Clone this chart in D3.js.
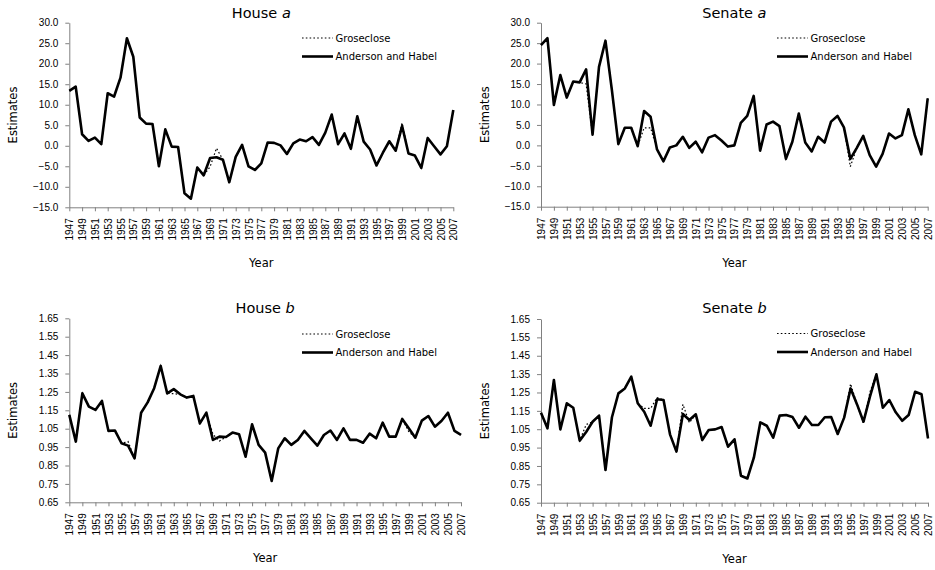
<!DOCTYPE html>
<html>
<head>
<meta charset="utf-8">
<script src="https://cdn.jsdelivr.net/npm/d3@7"></script>
<style>
  body { margin: 0; background: #fff; }
  svg { display: block; font-family: Verdana, "DejaVu Sans", sans-serif; }
</style>
</head>
<body>
<div id="chart"></div>
<script>
// years on the x axis, one value per year
const years = d3.range(1947, 2008);
const yearLabels = years.filter(y => (y - 1947) % 2 === 0);

// House a
const houseA_AH = [13.4, 14.4, 2.8, 1.2, 2.0, 0.4, 12.8, 12.0, 16.6, 26.2,
  21.7, 6.9, 5.4, 5.3, -5.0, 4.0, -0.2, -0.3, -11.6, -12.9,
  -5.3, -7.2, -3.0, -2.8, -3.4, -8.9, -2.7, 0.2, -5.0, -5.9,
  -4.3, 0.8, 0.7, 0.1, -2.0, 0.6, 1.5, 1.1, 2.1, 0.2,
  3.2, 7.6, 0.4, 3.0, -0.7, 7.2, 1.0, -0.9, -4.8, -1.7,
  1.1, -1.2, 4.8, -1.9, -2.4, -5.4, 1.9, -0.1, -2.1, -0.1,
  8.7];
const houseA_Gro = [13.4, 14.4, 2.8, 1.2, 2.0, 0.4, 12.8, 12.0, 16.6, 26.2,
  21.7, 6.9, 5.4, 5.3, -5.0, 4.0, -0.2, -0.3, -11.6, -12.9,
  -5.3, -7.2, -5.1, -0.6, -3.4, -8.9, -2.7, 0.2, -5.0, -5.9,
  -4.3, 0.8, 0.7, 0.1, -2.0, 0.6, 1.5, 1.1, 2.1, 0.2,
  3.2, 7.6, 0.4, 3.0, -0.7, 7.2, 1.0, -0.9, -4.8, -1.7,
  1.1, -1.2, 5.6, -1.9, -2.4, -5.4, 1.9, -0.1, -2.1, -0.1,
  8.7];

// Senate a
const senateA_AH = [24.5, 26.2, 9.9, 17.2, 11.7, 15.6, 15.4, 18.6, 2.6, 19.2,
  25.6, 13.5, 0.3, 4.3, 4.3, -0.2, 8.4, 7.0, -1.0, -3.9,
  -0.5, 0.0, 2.1, -0.6, 0.9, -1.7, 1.9, 2.5, 1.2, -0.3,
  0.0, 5.5, 7.2, 12.1, -1.3, 5.1, 5.8, 4.7, -3.3, 0.9,
  7.8, 0.7, -1.5, 2.1, 0.7, 5.8, 7.2, 4.4, -3.3, -0.6,
  2.3, -2.4, -5.2, -2.1, 2.9, 1.7, 2.5, 8.8, 2.5, -2.2,
  11.5];
const senateA_Gro = [24.5, 26.2, 9.9, 17.2, 11.7, 15.6, 15.4, 15.0, 2.6, 19.2,
  25.6, 13.5, 0.3, 4.3, 4.3, -0.2, 4.3, 4.3, -1.0, -3.9,
  -0.5, 0.0, 2.1, -0.6, 0.9, -1.7, 1.9, 2.5, 1.2, -0.3,
  0.0, 5.5, 7.2, 12.1, -1.3, 5.1, 5.8, 4.7, -3.3, 0.9,
  7.8, 0.7, -1.5, 2.1, 0.7, 5.8, 7.2, 4.4, -5.2, -0.6,
  2.3, -2.4, -5.2, -2.1, 2.9, 1.7, 2.5, 8.8, 2.5, -2.2,
  11.5];

// House b
const houseB_AH = [1.125, 0.980, 1.242, 1.170, 1.152, 1.201, 1.038, 1.040, 0.971, 0.958,
  0.889, 1.137, 1.193, 1.270, 1.391, 1.242, 1.265, 1.237, 1.219, 1.228,
  1.079, 1.137, 0.989, 1.007, 1.005, 1.029, 1.020, 0.898, 1.074, 0.962,
  0.920, 0.766, 0.943, 0.998, 0.962, 0.989, 1.038, 0.998, 0.958, 1.016,
  1.040, 0.989, 1.052, 0.989, 0.989, 0.974, 1.023, 0.998, 1.083, 1.007,
  1.007, 1.103, 1.052, 1.001, 1.094, 1.119, 1.061, 1.092, 1.137, 1.038,
  1.016];
const houseB_Gro = [1.125, 0.980, 1.242, 1.170, 1.152, 1.201, 1.038, 1.040, 0.971, 0.980,
  0.889, 1.137, 1.193, 1.270, 1.391, 1.242, 1.240, 1.237, 1.219, 1.228,
  1.079, 1.137, 1.020, 0.983, 1.005, 1.029, 1.020, 0.898, 1.074, 0.962,
  0.920, 0.766, 0.943, 0.998, 0.962, 0.989, 1.038, 0.998, 0.958, 1.016,
  1.040, 0.989, 1.052, 0.989, 0.989, 0.974, 1.023, 0.998, 1.083, 1.007,
  1.007, 1.103, 1.034, 1.001, 1.094, 1.119, 1.061, 1.092, 1.137, 1.038,
  1.016];

// Senate b
const senateB_AH = [1.140, 1.055, 1.318, 1.049, 1.191, 1.167, 0.988, 1.035, 1.091, 1.124,
  0.828, 1.115, 1.245, 1.272, 1.336, 1.191, 1.145, 1.069, 1.213, 1.209,
  1.022, 0.928, 1.133, 1.100, 1.131, 0.991, 1.046, 1.049, 1.062, 0.955,
  0.995, 0.797, 0.782, 0.895, 1.087, 1.069, 1.004, 1.124, 1.127, 1.116,
  1.058, 1.118, 1.073, 1.073, 1.115, 1.116, 1.024, 1.113, 1.272, 1.185,
  1.091, 1.227, 1.349, 1.167, 1.209, 1.142, 1.096, 1.127, 1.254, 1.240,
  1.000];
const senateB_Gro = [1.140, 1.055, 1.318, 1.049, 1.191, 1.167, 0.988, 1.075, 1.091, 1.124,
  0.828, 1.115, 1.245, 1.272, 1.336, 1.191, 1.163, 1.163, 1.222, 1.209,
  1.022, 0.928, 1.185, 1.085, 1.131, 0.991, 1.046, 1.049, 1.062, 0.955,
  0.995, 0.797, 0.782, 0.895, 1.087, 1.069, 1.004, 1.124, 1.127, 1.116,
  1.058, 1.118, 1.073, 1.073, 1.115, 1.116, 1.024, 1.113, 1.297, 1.185,
  1.082, 1.253, 1.349, 1.167, 1.209, 1.142, 1.096, 1.127, 1.254, 1.240,
  1.000];

// tick labels
const yTicksA = [-15, -10, -5, 0, 5, 10, 15, 20, 25, 30];
const yTicksB = [0.65, 0.75, 0.85, 0.95, 1.05, 1.15, 1.25, 1.35, 1.45, 1.55, 1.65];

const seriesNames = ["Groseclose", "Anderson and Habel"];

const width = 935, height = 570;

const panels = [
  { title: "House", letter: "a", ah: houseA_AH, gro: houseA_Gro, ticks: yTicksA, fmt: ".1f",
    x0: 69.3, x1: 453.3, yTop: 22.7, yBot: 207.3, titleY: 17.7, legX: 302, legY: 38 },
  { title: "Senate", letter: "a", ah: senateA_AH, gro: senateA_Gro, ticks: yTicksA, fmt: ".1f",
    x0: 541, x1: 927.7, yTop: 22.7, yBot: 206.7, titleY: 17.7, legX: 777, legY: 38 },
  { title: "House", letter: "b", ah: houseB_AH, gro: houseB_Gro, ticks: yTicksB, fmt: ".2f",
    x0: 69.3, x1: 461, yTop: 318.3, yBot: 502.3, titleY: 313, legX: 302, legY: 334 },
  { title: "Senate", letter: "b", ah: senateB_AH, gro: senateB_Gro, ticks: yTicksB, fmt: ".2f",
    x0: 541, x1: 928, yTop: 319, yBot: 502.7, titleY: 313, legX: 777, legY: 333.5 }
];

const svg = d3.select("#chart").append("svg")
  .attr("width", width)
  .attr("height", height);

panels.forEach(function(p) {
  const g = svg.append("g");

  const x = d3.scaleLinear().domain([1947, 2007]).range([p.x0, p.x1]);
  const y = d3.scaleLinear()
    .domain([p.ticks[0], p.ticks[p.ticks.length - 1]])
    .range([p.yBot, p.yTop]);

  // y axis
  const yAxis = g.append("g")
    .attr("transform", `translate(${p.x0},0)`)
    .call(d3.axisLeft(y).tickValues(p.ticks).tickFormat(d3.format(p.fmt))
      .tickSize(4).tickSizeOuter(0).tickPadding(7));
  yAxis.selectAll("path, line").attr("stroke", "#808080");
  yAxis.selectAll("text")
    .attr("fill", "#000")
    .style("font-size", "10px");

  // x axis
  const xAxis = g.append("g")
    .attr("transform", `translate(0,${p.yBot})`)
    .call(d3.axisBottom(x).tickValues(yearLabels).tickFormat(d => d)
      .tickSize(4).tickSizeOuter(0));
  xAxis.selectAll("path, line").attr("stroke", "#808080");
  xAxis.selectAll("text")
    .attr("fill", "#000")
    .style("font-size", "10px")
    .attr("text-anchor", "end")
    .attr("transform", "rotate(-90)")
    .attr("x", -11)
    .attr("y", 0)
    .attr("dy", "0.36em");

  // axis titles
  g.append("text")
    .attr("x", (p.x0 + p.x1) / 2)
    .attr("y", p.yBot + 60)
    .attr("text-anchor", "middle")
    .style("font-size", "11.5px")
    .text("Year");

  g.append("text")
    .attr("transform", `translate(${p.x0 - 52.5},${(p.yTop + p.yBot) / 2}) rotate(-90)`)
    .attr("text-anchor", "middle")
    .style("font-size", "11.5px")
    .text("Estimates");

  // panel title
  const t = g.append("text")
    .attr("x", (p.x0 + p.x1) / 2)
    .attr("y", p.titleY)
    .attr("text-anchor", "middle")
    .style("font-size", "14.5px");
  t.append("tspan").text(p.title + " ");
  t.append("tspan").style("font-style", "italic").text(p.letter);

  // lines
  const line = d3.line()
    .x((d, i) => x(years[i]))
    .y(d => y(d));

  g.append("path")
    .datum(p.gro)
    .attr("d", line)
    .attr("fill", "none")
    .attr("stroke", "#000")
    .attr("stroke-width", 1.2)
    .attr("stroke-dasharray", "1.6,2.2");

  g.append("path")
    .datum(p.ah)
    .attr("d", line)
    .attr("fill", "none")
    .attr("stroke", "#000")
    .attr("stroke-width", 2.6)
    .attr("stroke-linejoin", "round");

  // legend
  const leg = g.append("g");
  leg.append("line")
    .attr("x1", p.legX).attr("x2", p.legX + 31)
    .attr("y1", p.legY).attr("y2", p.legY)
    .attr("stroke", "#000")
    .attr("stroke-width", 1.2)
    .attr("stroke-dasharray", "1.6,2.2");
  leg.append("line")
    .attr("x1", p.legX).attr("x2", p.legX + 31)
    .attr("y1", p.legY + 18.5).attr("y2", p.legY + 18.5)
    .attr("stroke", "#000")
    .attr("stroke-width", 2.6);
  leg.selectAll("text").data(seriesNames).enter()
    .append("text")
    .attr("x", p.legX + 33.5)
    .attr("y", (d, i) => p.legY + i * 18.5)
    .attr("dy", "0.35em")
    .style("font-size", "10px")
    .text(d => d);
});
</script>
</body>
</html>
